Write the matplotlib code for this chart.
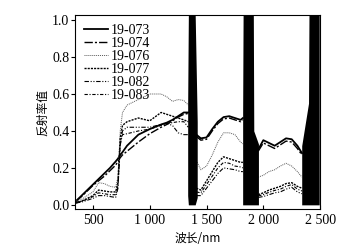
import numpy as np
import matplotlib.pyplot as plt
from matplotlib.ticker import FuncFormatter

nan = np.nan

# wavelength grid (nm), nan = break at water absorption bands
wl = [350, 400, 450, 500, 550, 600, 650, 700, 720, 740, 760, 800, 900, 1000,
      1100, 1150, 1200, 1250, 1300, 1340, nan,
      1410, 1450, 1500, 1550, 1600, 1650, 1700, 1750, 1800, 1820, nan,
      1955, 2000, 2050, 2100, 2150, 2200, 2250, 2300, 2340]

r_073 = [0.02, 0.05, 0.08, 0.11, 0.14, 0.17, 0.20, 0.235, 0.25, 0.27, 0.285, 0.32, 0.38, 0.41,
         0.435, 0.445, 0.46, 0.48, 0.50, 0.50, nan,
         0.38, 0.36, 0.365, 0.41, 0.45, 0.475, 0.48, 0.47, 0.46, 0.47, nan,
         0.30, 0.35, 0.335, 0.32, 0.34, 0.36, 0.355, 0.32, 0.28]
r_074 = [0.02, 0.045, 0.075, 0.105, 0.13, 0.155, 0.185, 0.215, 0.235, 0.255, 0.27, 0.29, 0.34, 0.385,
         0.42, 0.435, 0.455, 0.475, 0.49, 0.495, nan,
         0.37, 0.35, 0.355, 0.40, 0.44, 0.465, 0.47, 0.46, 0.45, 0.46, nan,
         0.29, 0.335, 0.32, 0.305, 0.325, 0.345, 0.34, 0.305, 0.27]
r_076 = [0.02, 0.03, 0.05, 0.07, 0.12, 0.115, 0.10, 0.095, 0.15, 0.40, 0.50, 0.54, 0.57, 0.60,
         0.60, 0.585, 0.56, 0.57, 0.565, 0.54, nan,
         0.24, 0.19, 0.21, 0.27, 0.34, 0.39, 0.39, 0.38, 0.34, 0.33, nan,
         0.15, 0.16, 0.18, 0.19, 0.21, 0.225, 0.21, 0.18, 0.15]
r_077 = [0.01, 0.02, 0.035, 0.05, 0.08, 0.075, 0.07, 0.07, 0.12, 0.36, 0.43, 0.45, 0.47, 0.455,
         0.50, 0.49, 0.48, 0.47, 0.46, 0.45, nan,
         0.09, 0.08, 0.13, 0.18, 0.23, 0.26, 0.25, 0.24, 0.23, 0.23, nan,
         0.055, 0.065, 0.08, 0.09, 0.10, 0.115, 0.12, 0.10, 0.09]
r_082 = [0.01, 0.015, 0.025, 0.035, 0.05, 0.05, 0.045, 0.04, 0.09, 0.32, 0.40, 0.42, 0.42, 0.42,
         0.435, 0.44, 0.43, 0.39, 0.38, 0.38, nan,
         0.05, 0.05, 0.09, 0.13, 0.17, 0.20, 0.195, 0.19, 0.18, 0.18, nan,
         0.04, 0.045, 0.055, 0.065, 0.07, 0.085, 0.095, 0.07, 0.06]
r_083 = [0.015, 0.02, 0.03, 0.045, 0.065, 0.06, 0.055, 0.055, 0.10, 0.33, 0.38, 0.385, 0.40, 0.41,
         0.43, 0.44, 0.445, 0.45, 0.45, 0.42, nan,
         0.07, 0.065, 0.11, 0.155, 0.20, 0.23, 0.225, 0.21, 0.205, 0.20, nan,
         0.048, 0.055, 0.068, 0.078, 0.085, 0.10, 0.11, 0.085, 0.075]

# noisy water-absorption bands (envelope of the scatter)
band1_wl = [1334, 1340, 1400, 1418]
band1_lo = [0.05, 0.0, 0.0, 0.04]
band1_hi = [0.55, 1.03, 1.03, 0.45]
band2_wl = [1818, 1822, 1912, 1916, 1957]
band2_lo = [0.0, 0.0, 0.0, 0.0, 0.0]
band2_hi = [0.50, 1.03, 1.03, 0.40, 0.33]
band3_wl = [2338, 2398, 2402, 2492]
band3_lo = [0.0, 0.0, 0.0, 0.0]
band3_hi = [0.32, 0.55, 1.03, 1.03]

samples = ['19-073', '19-074', '19-076', '19-077', '19-082', '19-083']
series = [r_073, r_074, r_076, r_077, r_082, r_083]
styles = [
    dict(ls='-', lw=1.3, color='k'),
    dict(ls=(0, (6, 1.5, 1.5, 1.5)), lw=1.0, color='k'),
    dict(ls=(0, (1, 1)), lw=0.7, color='0.35'),
    dict(ls=(0, (1.5, 0.8)), lw=1.0, color='k'),
    dict(ls=(0, (4, 1.5, 1, 1.5, 1, 1.5)), lw=0.8, color='k'),
    dict(ls=(0, (3, 1.5, 1, 1.5)), lw=0.8, color='k'),
]

plt.rcParams['font.family'] = ['Liberation Serif', 'Noto Sans CJK SC']

fig = plt.figure(figsize=(3.42, 2.52), dpi=100)
ax = fig.add_axes([0.219, 0.171, 0.717, 0.769])

for name, vals, st in zip(samples, series, styles):
    ax.plot(wl, vals, label=name, **st)

for bw, lo, hi in [(band1_wl, band1_lo, band1_hi),
                   (band2_wl, band2_lo, band2_hi),
                   (band3_wl, band3_lo, band3_hi)]:
    ax.fill_between(bw, lo, hi, color='k', lw=0, zorder=3)

ax.set_xlim(341, 2500)
ax.set_ylim(-0.022, 1.027)
ax.set_xticks([500, 1000, 1500, 2000, 2500])
ax.xaxis.set_major_formatter(FuncFormatter(lambda v, p: f'{int(v):,}'.replace(',', ' ')))
ax.set_yticks([0.0, 0.2, 0.4, 0.6, 0.8, 1.0])
ax.yaxis.set_major_formatter(FuncFormatter(lambda v, p: f'{v:.1f}'))
ax.tick_params(axis='x', direction='in', length=3, pad=4, labelsize=10)
ax.tick_params(axis='y', direction='out', length=3, pad=1, labelsize=10)
for s in ax.spines.values():
    s.set_linewidth(0.8)

ax.set_xlabel('波长/nm', family=['Noto Sans CJK SC'], fontsize=8.5, labelpad=3)
ax.set_ylabel('反射率值', family=['Noto Sans CJK SC'], fontsize=8.5, labelpad=2)

ax.legend(loc='upper left', frameon=False, fontsize=10, handlelength=1.7,
          handletextpad=0.2, labelspacing=0.0, borderaxespad=0.25,
          bbox_to_anchor=(0.0, 1.0))

fig.savefig('out.png', dpi=100)
